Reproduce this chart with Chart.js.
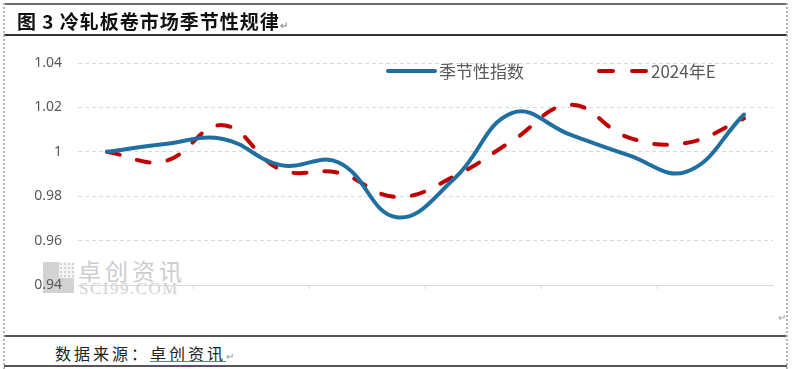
<!DOCTYPE html>
<html>
<head>
<meta charset="utf-8">
<script src="https://cdn.jsdelivr.net/npm/chart.js@4.4.1/dist/chart.umd.min.js"></script>
<style>
    html, body { margin: 0; padding: 0; background: #fff; }
    body { width: 793px; height: 369px; position: relative; overflow: hidden; font-family: "Noto Sans CJK SC", "Noto Sans", sans-serif; }
    .abs { position: absolute; }
    .hline { position: absolute; left: 4px; width: 783px; }
    .vline { position: absolute; top: 3px; height: 366px; border-left: 2px dotted #b4b4b4; }
    .mark { color: #9a9a9a; font-size: 10px; }
    #heading { left: 17px; top: 8px; font-size: 19px; font-weight: 700; letter-spacing: 1px; color: #111; line-height: 26px; white-space: nowrap; }
    #source { left: 55px; top: 341px; font-size: 16px; letter-spacing: 3px; color: #222; line-height: 24px; white-space: nowrap; }
    #wm-logo { left: 43px; top: 262px; width: 31px; height: 31px; background: #d2d2d2; }
    #wm-logo .dots { position: absolute; left: 16px; top: 0; width: 15px; height: 16px;
        background-image: radial-gradient(#d2d2d2 35%, #f4f4f4 40%); background-size: 4px 4px; }
    #wm-text { left: 78px; top: 255px; font-size: 23px; letter-spacing: 4px; color: #cdcdcd; line-height: 30px; white-space: nowrap; }
    #wm-en { left: 79px; top: 280px; font-family: "Liberation Serif", serif; font-size: 17px; letter-spacing: 1.5px; color: #d0d0d0; line-height: 17px; white-space: nowrap; }
    #chartBox { position: absolute; left: 0; top: 36px; width: 793px; height: 300px; }
    .legend-text { font-size: 17px; color: #595959; line-height: 22px; white-space: nowrap; }
</style>
</head>
<body>
    <!-- watermark sits under the canvas -->
    <div class="abs" id="wm-logo"><div class="dots"></div></div>
    <div class="abs" id="wm-text">卓创资讯</div>
    <div class="abs" id="wm-en">SCI99.COM</div>

    <div id="chartBox"><canvas id="seasonChart" width="793" height="300"></canvas></div>

    <!-- legend -->
    <svg class="abs" style="left:380px; top:62px;" width="280" height="18">
        <line x1="8" y1="9" x2="55" y2="9" stroke="#1f6fa0" stroke-width="4" stroke-linecap="round"/>
        <line x1="219" y1="9" x2="266" y2="9" stroke="#c00000" stroke-width="4" stroke-linecap="round" stroke-dasharray="14 19"/>
    </svg>
    <div class="abs legend-text" id="leg1" style="left:439px; top:60px;">季节性指数</div>
    <div class="abs legend-text" id="leg2" style="left:651px; top:60px;">2024年E</div>

    <!-- document frame -->
    <div class="hline" style="top:3px; height:2px; background:#6b6b6b;"></div>
    <div class="hline" style="top:34px; height:2px; background:#333;"></div>
    <div class="hline" style="top:335px; height:2px; background:#555;"></div>
    <div class="hline" style="top:365px; height:2px; background:#555;"></div>
    <div class="vline" style="left:3px;"></div>
    <div class="vline" style="left:786px;"></div>

    <div class="abs" id="heading">图 3 冷轧板卷市场季节性规律<span class="mark">↵</span></div>
    <div class="abs mark" style="left:778px; top:309px;">↵</div>
    <div class="abs" id="source">数据来源：卓创资讯<span class="mark" style="letter-spacing:0">↵</span></div>
    <div class="abs" style="left:150px; top:361px; width:76px; height:1px; background:#4a7fd6;"></div>

<script>
    // Months (labels hidden on the axis)
    const months = ['1月', '2月', '3月', '4月', '5月', '6月', '7月', '8月', '9月', '10月', '11月', '12月'];

    // Series
    const seasonalIndex = [1.000, 1.0035, 1.0058, 0.9940, 0.9952, 0.9705, 0.9880, 1.0175, 1.0077, 0.9985, 0.9910, 1.0168];
    const estimate2024 = [1.000, 0.9958, 1.0120, 0.9920, 0.9905, 0.9797, 0.9890, 1.0050, 1.0212, 1.0065, 1.0040, 1.0150];

    const yTicks = [0.94, 0.96, 0.98, 1.00, 1.02, 1.04];

    const gridGray = '#d9d9d9';

    new Chart(document.getElementById('seasonChart').getContext('2d'), {
        type: 'line',
        data: {
            labels: months,
            datasets: [
                {
                    label: '季节性指数',
                    data: seasonalIndex,
                    borderColor: '#1f6fa0',
                    borderWidth: 4,
                    tension: 0.42,
                    pointRadius: 0,
                    borderCapStyle: 'round',
                    borderJoinStyle: 'round',
                    fill: false
                },
                {
                    label: '2024年E',
                    data: estimate2024,
                    borderColor: '#c00000',
                    borderWidth: 4,
                    borderDash: [13, 18],
                    tension: 0.42,
                    pointRadius: 0,
                    borderCapStyle: 'round',
                    borderJoinStyle: 'round',
                    fill: false
                }
            ]
        },
        options: {
            responsive: false,
            animation: false,
            layout: { padding: { left: 0, top: 27, right: 20, bottom: 41 } },
            plugins: {
                legend: { display: false },
                tooltip: { enabled: false }
            },
            scales: {
                x: {
                    offset: true,
                    grid: {
                        offset: true,
                        drawOnChartArea: false,
                        drawTicks: true,
                        tickLength: 4,
                        lineWidth: 1,
                        color: ctx => (ctx.index !== undefined && ctx.index > 0 && ctx.index % 2 === 0) ? gridGray : 'rgba(0,0,0,0)'
                    },
                    border: { display: true, color: gridGray, width: 1 },
                    ticks: { display: false },
                    afterFit: scale => { scale.height = 10; }
                },
                y: {
                    min: 0.94,
                    max: 1.04,
                    afterBuildTicks: scale => { scale.ticks = yTicks.map(v => ({ value: v })); },
                    grid: {
                        drawTicks: false,
                        lineWidth: 1,
                        color: ctx => (ctx.tick && Math.abs(ctx.tick.value - 0.94) < 1e-6) ? 'rgba(0,0,0,0)' : gridGray
                    },
                    border: { display: false, dash: [4, 3] },
                    ticks: {
                        padding: 16,
                        color: '#595959',
                        font: { family: 'Noto Sans', size: 14 },
                        callback: v => String(Number(v.toFixed(2)))
                    },
                    afterFit: scale => { scale.width = 78; }
                }
            }
        }
    });
</script>
</body>
</html>
